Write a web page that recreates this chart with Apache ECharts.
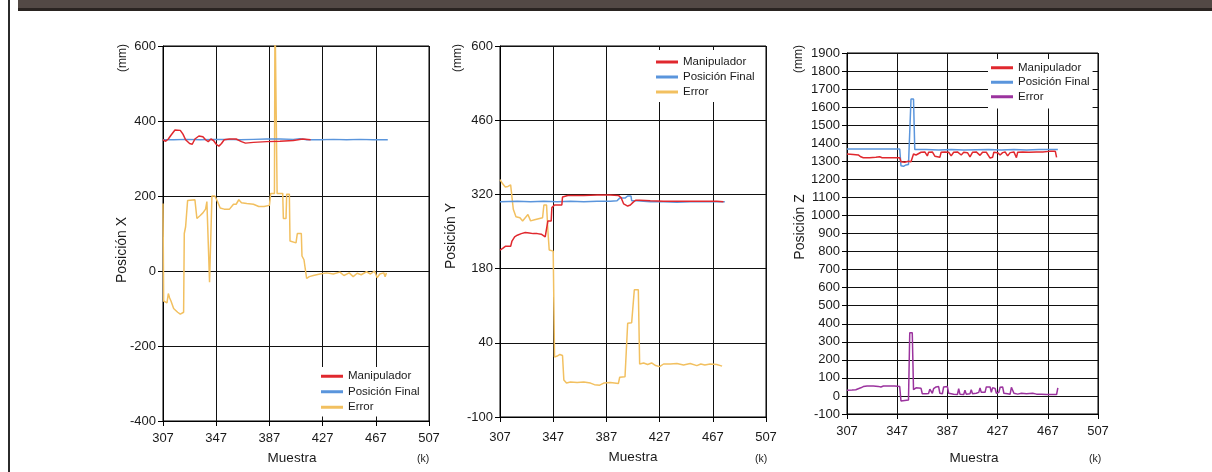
<!DOCTYPE html>
<html><head><meta charset="utf-8">
<script src="https://cdn.jsdelivr.net/npm/echarts@6/dist/echarts.min.js"></script>
<style>html,body{margin:0;padding:0;background:#fff}#c{width:1212px;height:472px}</style>
</head><body><div id="c"></div>
<script>
// ---------- DATA ----------
const xTickLabels = [307, 347, 387, 427, 467, 507];
const seriesNames = ['Manipulador', 'Posición Final', 'Error'];

// Chart 1 : Posición X
const manipX_x = [307,309,311,313,316,320,322,324,327,329,331,334,337,339,341,343,345,347,349,351,353,357,362,366,369,375,385,395,405,412,418];
const manipX_y = [350,346,352,362,376,375,365,350,340,338,352,360,358,350,345,352,348,338,333,340,350,352,352,345,341,343,345,346,348,352,350];
const finalX_x = [307,315,325,335,345,355,365,375,385,395,405,410,415,425,435,445,455,465,476];
const finalX_y = [350,350,351,350,351,351,350,351,352,352,351,353,350,350,351,350,351,350,350];
const errorX_x = [307,307.5,308,310,311,312,313,315,318,320,321.5,322.5,323,324,325.5,331,332.5,335,337,339,340,341,342,343,343.8,346,348,350,353,357,360,362,364,366,370,375,379,383,387,388,390.8,391.2,392,392.8,397,397.5,399.5,400,402,402.5,407,408,411,411.5,413,414,415,417,420,425,430,435,440,443,447,450,453,456,460,463,466,468,470,473,474,475];
const errorX_y = [180,-80,-85,-85,-60,-72,-80,-100,-110,-115,-112,-110,100,118,188,190,140,148,155,165,185,180,-30,-25,200,200,185,168,165,165,178,178,190,182,180,178,172,172,175,207,207,700,700,207,207,140,140,205,205,80,75,100,100,40,30,25,-20,-15,-12,-8,-5,-8,-3,-12,-5,-15,-6,-10,-2,-8,0,-18,-8,-5,-15,-5];

// Chart 2 : Posición Y
const manipY_x = [307,309,311,315,316,318,320,323,326,329,332,335,338,341,342.5,343,345.5,346,348,353.5,354,358,370,380,390,396,398,400,403,405,407,409,412,420,430,440,450,460,470,475];
const manipY_y = [215,218,222,222,232,240,243,246,248,247,246,246,245,240,239,270,270,295,300,300,315,318,318,319,319,318,314,302,298,300,305,309,309,308,307,307,307,307,307,306];
const finalY_x = [307,320,330,340,350,360,370,380,390,395,397,401,403,405.5,406,410,420,430,440,450,460,470,476];
const finalY_y = [306,307,306,307,306,307,306,307,307,308,313,313,317,317,308,308,306,306,305,306,306,306,306];
const errorY_x = [307,309,311,313,315,316,317,319,322,324,326,328,330,333,336,339,340,342,343,344,347,348,350,352,354,355,357,360,365,370,375,378,382,385,390,393,396,397,401,403,406,408,411,412,415,418,421,424,427,430,435,440,445,450,455,458,461,465,470,474];
const errorY_y = [348,340,334,335,338,339,292,278,276,270,276,282,270,272,274,276,300,300,252,215,213,13,15,18,16,-30,-36,-34,-35,-34,-36,-39,-40,-36,-35,-36,-37,-25,-24,77,78,140,140,0,2,-1,2,-3,-5,0,0,1,-2,1,-3,0,-2,0,-1,-4];

// Chart 3 : Posición Z
const manipZ_x = [307,312,316,318,320,325,330,333,335,340,345,349,350,353,356,358,360,362,363,366,369,371,372,375,377,378,381,382,385,388,390,392,395,398,400,403,405,407,410,413,415,418,421,423,424,427,429,431,433,435,437,440,442,443,447,452,458,463,468,473,474];
const manipZ_y = [1340,1338,1335,1325,1320,1320,1322,1325,1320,1320,1320,1320,1298,1295,1300,1298,1340,1335,1345,1350,1352,1330,1350,1352,1328,1320,1322,1350,1352,1350,1330,1350,1352,1335,1350,1348,1325,1350,1352,1333,1350,1350,1318,1322,1350,1348,1335,1348,1352,1330,1348,1352,1320,1350,1352,1350,1352,1352,1355,1355,1322];
const finalZ_x = [307,330,349,350,352,354,356,357,358,360,361,370,380,390,400,410,420,430,440,450,460,470,475];
const finalZ_y = [1368,1368,1368,1275,1272,1280,1282,1290,1645,1645,1365,1365,1362,1365,1362,1364,1365,1362,1365,1363,1365,1365,1366];
const errorZ_x = [307,311,314,316,318,320,323,328,332,334,336,340,345,349,350,353,356,357,359,360,362,366,367,370,372,373,375,376,378,380,381,383,384,387,388,392,395,396,397,400,401,402,405,406,407,410,412,413,414,417,418,421,422,423,425,426,428,429,431,432,435,437,438,440,443,446,450,455,458,462,466,470,474,475];
const errorZ_y = [32,33,34,40,45,52,55,55,53,50,55,55,55,52,-28,-25,-22,350,350,35,45,42,12,12,14,38,15,40,50,52,15,12,50,52,15,10,8,40,10,8,32,10,12,35,12,15,20,45,20,20,50,50,20,45,42,15,20,48,50,15,12,10,48,15,10,15,12,15,10,10,8,8,8,45];

// ---------- STYLE ----------
const RED = '#e0282e', BLUE = '#5a95dc', ORANGE = '#f2c060', PURPLE = '#9b339e';
const FONT = "'Liberation Sans',Arial,sans-serif";
const TXT = '#1a1a1a';

const zip = (xs, ys) => xs.map((x, i) => [x, ys[i]]);

const grids = [
  {left: 163, top: 46, width: 266, height: 375},
  {left: 500, top: 46, width: 266, height: 371},
  {left: 847, top: 53, width: 251, height: 361}
];
const yRanges = [
  {min: -400, max: 600, interval: 200},
  {min: -100, max: 600, interval: 140},
  {min: -100, max: 1900, interval: 100}
];
const xLabelMargin = [11, 14, 11];

const xAxes = grids.map((g, i) => ({
  type: 'value', gridIndex: i, min: xTickLabels[0], max: xTickLabels[xTickLabels.length - 1],
  interval: xTickLabels[1] - xTickLabels[0],
  axisLine: {show: true, onZero: false, lineStyle: {color: '#000', width: 1}},
  axisTick: {show: true, length: 5, lineStyle: {color: '#000'}},
  splitLine: {show: true, lineStyle: {color: '#111', width: 1}},
  axisLabel: {color: TXT, fontFamily: FONT, fontSize: 13, margin: xLabelMargin[i], showMinLabel: true, showMaxLabel: true,
    formatter: v => String(v)}
}));
const yAxes = grids.map((g, i) => ({
  type: 'value', gridIndex: i, min: yRanges[i].min, max: yRanges[i].max, interval: yRanges[i].interval,
  axisLine: {show: true, onZero: false, lineStyle: {color: '#000', width: 1}},
  axisTick: {show: true, length: 5, lineStyle: {color: '#000'}},
  splitLine: {show: true, lineStyle: {color: '#111', width: 1}},
  axisLabel: {color: TXT, fontFamily: FONT, fontSize: 13, margin: 7, showMinLabel: true, showMaxLabel: true,
    formatter: v => String(v)}
}));

function line(name, data, color, idx) {
  return {type: 'line', name, data, xAxisIndex: idx, yAxisIndex: idx, showSymbol: false, symbol: 'none',
    lineStyle: {color, width: 1.5}, itemStyle: {color}, clip: true, silent: true, z: 3};
}
const series = [
  line(seriesNames[2], zip(errorX_x, errorX_y), ORANGE, 0),
  line(seriesNames[1], zip(finalX_x, finalX_y), BLUE, 0),
  line(seriesNames[0], zip(manipX_x, manipX_y), RED, 0),
  line(seriesNames[2], zip(errorY_x, errorY_y), ORANGE, 1),
  line(seriesNames[1], zip(finalY_x, finalY_y), BLUE, 1),
  line(seriesNames[0], zip(manipY_x, manipY_y), RED, 1),
  line(seriesNames[2], zip(errorZ_x, errorZ_y), PURPLE, 2),
  line(seriesNames[1], zip(finalZ_x, finalZ_y), BLUE, 2),
  line(seriesNames[0], zip(manipZ_x, manipZ_y), RED, 2)
];

function legend(left, top, padding, lh, errColor) {
  return {
    orient: 'vertical', left, top, padding, backgroundColor: '#fff', selectedMode: false,
    icon: 'rect', itemWidth: 22, itemHeight: 3, itemGap: 1,
    textStyle: {fontFamily: FONT, fontSize: 11.5, color: TXT, lineHeight: lh},
    data: [
      {name: seriesNames[0], itemStyle: {color: RED}},
      {name: seriesNames[1], itemStyle: {color: BLUE}},
      {name: seriesNames[2], itemStyle: {color: errColor}}
    ]
  };
}

function txt(x, y, text, size, rot) {
  return {type: 'text', x, y, rotation: rot ? Math.PI / 2 : 0, z: 10,
    style: {text, fill: TXT, font: size + 'px ' + FONT, align: 'center', verticalAlign: 'middle'}};
}

const graphic = [
  {type: 'rect', shape: {x: 18, y: 0, width: 1194, height: 8}, style: {fill: '#534945'}},
  {type: 'rect', shape: {x: 18, y: 8, width: 1194, height: 3}, style: {fill: '#2a2421'}},
  {type: 'rect', shape: {x: 8, y: 0, width: 2, height: 472}, style: {fill: '#2b2b2b'}},
  txt(122, 250, 'Posición X', 14, true),
  txt(123, 58, '(mm)', 12, true),
  txt(292, 458, 'Muestra', 13.5),
  txt(423, 459, '(k)', 10.5),
  txt(451, 236, 'Posición Y', 14, true),
  txt(458, 58, '(mm)', 12, true),
  txt(633, 457, 'Muestra', 13.5),
  txt(761, 459, '(k)', 10.5),
  txt(800, 227, 'Posición Z', 14, true),
  txt(799, 59, '(mm)', 12, true),
  txt(974, 458, 'Muestra', 13.5),
  txt(1095, 459, '(k)', 10.5)
];

const chart = echarts.init(document.getElementById('c'), null, {renderer: 'canvas'});
chart.setOption({
  animation: false,
  backgroundColor: '#fff',
  grid: grids.map(g => Object.assign({containLabel: false, show: true, borderColor: '#000', borderWidth: 1, backgroundColor: 'transparent'}, g)),
  xAxis: xAxes,
  yAxis: yAxes,
  legend: [
    legend(319, 367, [2, 3, 2, 2], 14.5, ORANGE),
    legend(653, 50, [5, 4, 3, 3], 14, ORANGE),
    legend(988, 59, [2, 3, 5, 3], 13.5, PURPLE)
  ],
  series,
  graphic
});
</script></body></html>
